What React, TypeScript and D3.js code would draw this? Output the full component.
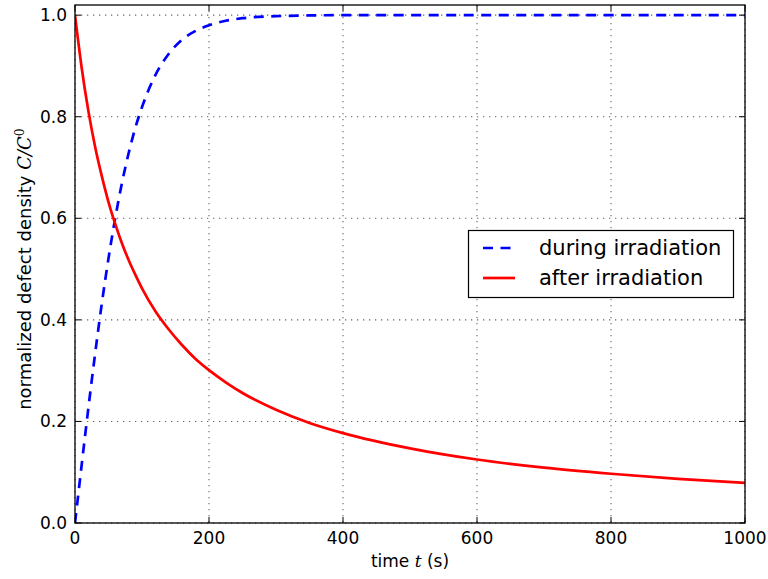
import React from "react";
import * as d3 from "d3";

const times = [0, 10, 20, 30, 40, 50, 60, 70, 80, 90, 100, 120, 140, 160, 180, 200, 225, 250, 300, 350, 400, 500, 600, 700, 800, 900, 1000];
const during = [0, 0.115, 0.227, 0.333, 0.432, 0.521, 0.6, 0.669, 0.728, 0.778, 0.819, 0.882, 0.924, 0.952, 0.969, 0.98, 0.989, 0.994, 0.998, 0.9994, 1.0, 1, 1, 1, 1, 1, 1];
const after = [1, 0.896, 0.811, 0.741, 0.683, 0.632, 0.589, 0.551, 0.518, 0.489, 0.462, 0.417, 0.381, 0.35, 0.323, 0.301, 0.277, 0.256, 0.223, 0.197, 0.177, 0.147, 0.125, 0.109, 0.097, 0.087, 0.079];
const xTicks = [0, 200, 400, 600, 800, 1000];
const yTicks = [0.0, 0.2, 0.4, 0.6, 0.8, 1.0];
const seriesNames = ["during irradiation", "after irradiation"];

const W = 768, H = 579;
const L = 75, R = 745, T = 5, B = 523;

export default function App() {
  const x = d3.scaleLinear().domain([0, 1000]).range([L, R]);
  const y = d3.scaleLinear().domain([0, 1.02]).range([B, T]);
  const line = d3
    .line<[number, number]>()
    .x((d) => x(d[0]))
    .y((d) => y(d[1]))
    .curve(d3.curveMonotoneX);
  const dDuring = line(times.map((t, i) => [t, during[i]] as [number, number])) || "";
  const dAfter = line(times.map((t, i) => [t, after[i]] as [number, number])) || "";
  const font = "DejaVu Sans, sans-serif";
  const tickLen = 6;

  return (
    <svg width={W} height={H} style={{ position: "absolute", left: 0, top: 0, background: "#fff" }}>
      <rect x={0} y={0} width={W} height={H} fill="#fff" />
      <defs>
        <clipPath id="plotclip">
          <rect x={L} y={T} width={R - L} height={B - T} />
        </clipPath>
      </defs>
      {/* grid */}
      <g stroke="#000" strokeWidth={1.1} strokeDasharray="1.3,4.7" opacity={0.6}>
        {xTicks.map((t) => (
          <line key={"gx" + t} x1={x(t)} x2={x(t)} y1={T} y2={B} />
        ))}
        {yTicks.map((t) => (
          <line key={"gy" + t} x1={L} x2={R} y1={y(t)} y2={y(t)} />
        ))}
      </g>
      {/* curves */}
      <g clipPath="url(#plotclip)" fill="none">
        <path d={dDuring} stroke="#0000ff" strokeWidth={2.7} strokeDasharray="10,7.5" />
        <path d={dAfter} stroke="#ff0000" strokeWidth={2.7} />
      </g>
      {/* ticks */}
      <g stroke="#000" strokeWidth={1}>
        {xTicks.map((t) => (
          <g key={"tx" + t}>
            <line x1={x(t)} x2={x(t)} y1={B} y2={B - tickLen} />
            <line x1={x(t)} x2={x(t)} y1={T} y2={T + tickLen} />
          </g>
        ))}
        {yTicks.map((t) => (
          <g key={"ty" + t}>
            <line x1={L} x2={L + tickLen} y1={y(t)} y2={y(t)} />
            <line x1={R} x2={R - tickLen} y1={y(t)} y2={y(t)} />
          </g>
        ))}
      </g>
      {/* frame */}
      <rect x={L} y={T} width={R - L} height={B - T} fill="none" stroke="#000" strokeWidth={1.3} />
      {/* tick labels */}
      <g fontFamily={font} fontSize={17} fill="#000">
        {xTicks.map((t) => (
          <text key={"lx" + t} x={x(t)} y={544} textAnchor="middle">
            {d3.format("d")(t)}
          </text>
        ))}
        {yTicks.map((t) => (
          <text key={"ly" + t} x={67} y={y(t) + 6} textAnchor="end">
            {d3.format(".1f")(t)}
          </text>
        ))}
      </g>
      {/* axis labels */}
      <text x={(L + R) / 2} y={567} textAnchor="middle" fontFamily={font} fontSize={17} fill="#000">
        time <tspan fontFamily="DejaVu Serif, serif" fontStyle="italic">t</tspan> (s)
      </text>
      <text
        transform={`translate(31, ${(T + B) / 2 + 5}) rotate(-90)`}
        textAnchor="middle"
        fontFamily={font}
        fontSize={18}
        fill="#000"
      >
        normalized defect density{" "}
        <tspan fontFamily="DejaVu Serif, serif" fontStyle="italic">C/C</tspan>
        <tspan fontFamily="DejaVu Serif, serif" fontSize={12.5} dy={-7}>0</tspan>
      </text>
      {/* legend */}
      <g>
        <rect x={468.5} y={230.5} width={265} height={67} fill="#fff" stroke="#000" strokeWidth={1.2} />
        <line x1={483} x2={514} y1={248} y2={248} stroke="#0000ff" strokeWidth={2.7} strokeDasharray="10,7.5" />
        <line x1={483} x2={515} y1={278} y2={278} stroke="#ff0000" strokeWidth={2.7} />
        <text x={539} y={255} fontFamily={font} fontSize={21} fill="#000">{seriesNames[0]}</text>
        <text x={539} y={285} fontFamily={font} fontSize={21} fill="#000">{seriesNames[1]}</text>
      </g>
    </svg>
  );
}
